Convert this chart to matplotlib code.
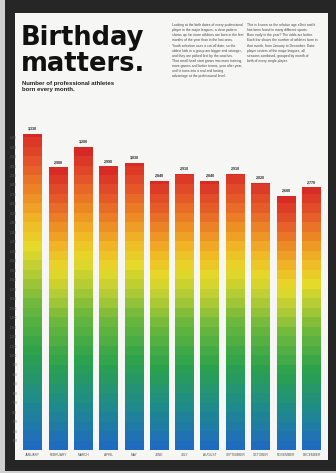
import matplotlib
matplotlib.use('Agg')
import matplotlib.pyplot as plt
import numpy as np
from matplotlib.colors import LinearSegmentedColormap
from matplotlib.patches import Rectangle

plt.rcParams['font.family'] = ['Liberation Sans', 'DejaVu Sans']

# data
months = ['JANUARY', 'FEBRUARY', 'MARCH', 'APRIL', 'MAY', 'JUNE', 'JULY',
          'AUGUST', 'SEPTEMBER', 'OCTOBER', 'NOVEMBER', 'DECEMBER']
births = [3330, 2980, 3200, 2990, 3030, 2840, 2910, 2840, 2910, 2820, 2680, 2770]
step = 100

subtitle = 'Number of professional athletes\nborn every month.'
col1 = ('Looking at the birth dates of every professional\n'
        'player in the major leagues, a clear pattern\n'
        'shows up: far more athletes are born in the first\n'
        'months of the year than in the last ones.\n'
        'Youth selection uses a cut-off date, so the\n'
        'oldest kids in a group are bigger and stronger,\n'
        'and they are picked first by the coaches.\n'
        'That small head start grows into more training,\n'
        'more games and better teams, year after year,\n'
        'until it turns into a real and lasting\n'
        'advantage at the professional level.')
col2 = ('This is known as the relative age effect and it\n'
        'has been found in many different sports.\n'
        'Born early in the year? The odds are better.\n'
        'Each bar shows the number of athletes born in\n'
        'that month, from January to December. Data:\n'
        'player rosters of the major leagues, all\n'
        'seasons combined, grouped by month of\n'
        'birth of every single player.')

W, H = 336, 473
fig = plt.figure(figsize=(W / 100, H / 100), dpi=100)
fig.patch.set_facecolor('#cfcfcf')

def px_rect(x0, y0, x1, y1, color, z):
    fig.patches.append(Rectangle((x0 / W, 1 - y1 / H), (x1 - x0) / W, (y1 - y0) / H,
                                 transform=fig.transFigure, facecolor=color,
                                 edgecolor='none', zorder=z))

# frame and poster
px_rect(5, 0, 336, 471, '#262626', 0)
px_rect(15, 13, 328, 460, '#f6f6f4', 1)

def ftext(x, y, s, **kw):
    fig.text(x / W, 1 - y / H, s, **kw)

ftext(21, 45, 'Birthday', fontsize=18.5, fontweight='bold', family='DejaVu Sans',
      va='baseline', ha='left', color='#111111', zorder=5)
ftext(21, 71, 'matters.', fontsize=18.5, fontweight='bold', family='DejaVu Sans',
      va='baseline', ha='left', color='#111111', zorder=5)
ftext(22, 81, subtitle, fontsize=4.3, fontweight='bold', va='top', ha='left',
      linespacing=1.25, color='#222222', zorder=5)
ftext(172, 23, col1, fontsize=2.45, va='top', ha='left', linespacing=1.38,
      color='#444444', zorder=5)
ftext(247, 23, col2, fontsize=2.45, va='top', ha='left', linespacing=1.38,
      color='#444444', zorder=5)

# colour runs from blue at the foot of each bar to red at its top
cmap = LinearSegmentedColormap.from_list('rainbow_steps', [
    (0.00, '#1f68c4'),
    (0.15, '#1f8a8c'),
    (0.30, '#2ba24c'),
    (0.45, '#6cb83c'),
    (0.55, '#b6cc34'),
    (0.63, '#e6da2a'),
    (0.71, '#f0b826'),
    (0.80, '#ec8824'),
    (0.90, '#e4522a'),
    (1.00, '#d42424'),
])

ax = fig.add_axes([20 / W, (H - 450) / H, 304 / W, 330 / H])
ax.set_facecolor('none')
ax.set_zorder(6)

x = np.arange(len(months))
for i, v in enumerate(births):
    n = int(np.ceil(v / step))
    for k in range(n):
        h = min(step, v - k * step)
        ax.bar(x[i], h, bottom=k * step, width=0.75,
               color=cmap((k + 0.5) / n), linewidth=0)
    ax.text(x[i], v + 35, f'{v:,}', ha='center', va='bottom', fontsize=2.6,
            fontweight='bold', color='#222222')

ax.set_xlim(-0.5, len(months) - 0.5)
ax.set_ylim(0, 3480)
ax.set_xticks(x)
ax.set_xticklabels(months, fontsize=2.3, color='#555555')
ax.set_yticks(np.arange(0, 3301, step))
ax.set_yticklabels([f'{t:,}' if t else '' for t in np.arange(0, 3301, step)],
                   fontsize=2.0, color='#666666')
ax.tick_params(length=0, pad=2)
for s in ax.spines.values():
    s.set_visible(False)

fig.savefig('out.png', dpi=100, facecolor=fig.get_facecolor())
